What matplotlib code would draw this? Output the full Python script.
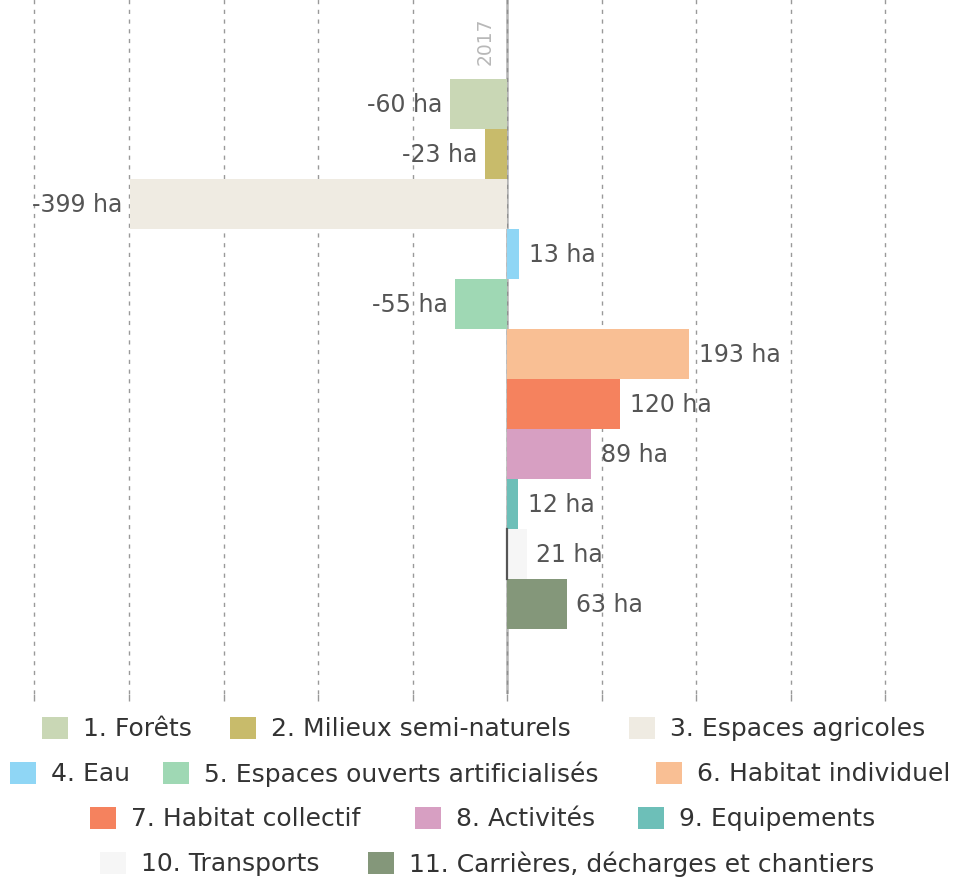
import matplotlib
matplotlib.use("Agg")
import matplotlib.pyplot as plt
from matplotlib.patches import Rectangle

categories = ["1. Forêts", "2. Milieux semi-naturels", "3. Espaces agricoles",
              "4. Eau", "5. Espaces ouverts artificialisés", "6. Habitat individuel",
              "7. Habitat collectif", "8. Activités", "9. Equipements",
              "10. Transports", "11. Carrières, décharges et chantiers"]
values = [-60, -23, -399, 13, -55, 193, 120, 89, 12, 21, 63]
colors = ["#c9d7b5", "#c8bb6b", "#efebe2", "#8fd6f5", "#9fd8b4", "#f9bf94",
          "#f5825e", "#d79fc2", "#6dbfb8", "#f6f6f6", "#84977a"]
year_label = "2017"
grid_ticks = [-500, -400, -300, -200, -100, 0, 100, 200, 300, 400]

plt.rcParams['font.family'] = ['DejaVu Sans']

W, H = 972, 879
fig = plt.figure(figsize=(W / 100, H / 100), dpi=100)
ax = fig.add_axes([0, (H - 695) / H, 1, 695 / H])

ypos = list(range(len(values)))
ax.barh(ypos, values, height=1.0, color=colors, zorder=2)

# dark edge of the Transports bar at zero
ax.plot([0, 0], [9 - 0.5, 9 + 0.5], color="#555555", lw=1.6, zorder=3)

for y, v in zip(ypos, values):
    txt = f"{v} ha"
    if v >= 0:
        ax.text(v + 10, y, txt, ha="left", va="center", fontsize=17,
                color="#555555", zorder=4)
    else:
        ax.text(v - 8, y, txt, ha="right", va="center", fontsize=17,
                color="#555555", zorder=4)

for g in grid_ticks:
    if g == 0:
        ax.axvline(0, color="#b4b4b4", lw=1.8, zorder=1)
        ax.axvline(0, color="#909090", lw=1, ls=(0, (3, 4)), zorder=1)
    else:
        ax.axvline(g, color="#999999", lw=1, ls=(0, (3, 4)), zorder=1)

ax.text(-23, -0.8, year_label, rotation=90, ha="center", va="bottom",
        fontsize=13.5, color="#b8b8b8")

ax.set_xlim(-536.5, 492)
ax.set_ylim(11.8, -2.1)
ax.set_xticks(grid_ticks)
ax.set_xticklabels([])
ax.set_yticks([])
ax.tick_params(axis="x", length=5, color="#999999", width=1)
for s in ax.spines.values():
    s.set_visible(False)

# legend, laid out item by item (pixel positions of each swatch's left edge)
rows = [[0, 1, 2], [3, 4, 5], [6, 7, 8], [9, 10]]
row_cy = [729, 774, 819, 864]
patch_x = [[42, 230, 629], [10, 163, 656], [90, 415, 638], [100, 368]]
pw, ph = 26, 22
for r, cy, xs in zip(rows, row_cy, patch_x):
    for i, x0 in zip(r, xs):
        fig.patches.append(Rectangle((x0 / W, (H - cy - ph / 2) / H), pw / W, ph / H,
                                     transform=fig.transFigure, facecolor=colors[i],
                                     edgecolor="none"))
        fig.text((x0 + pw + 15) / W, (H - cy) / H, categories[i], ha="left",
                 va="center", fontsize=18, color="#333333")

fig.savefig("out.png", dpi=100)
